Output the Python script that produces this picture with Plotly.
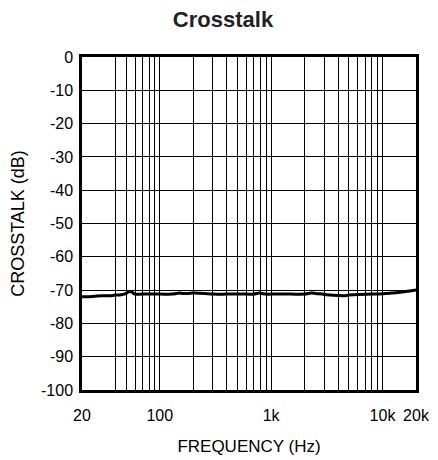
import plotly.graph_objects as go

freq_hz = [20, 25, 30, 35, 40, 45, 50, 53, 56, 60, 70, 100, 130, 150, 160, 180, 200, 250, 300,
           400, 500, 600, 700, 780, 820, 900, 1000, 1500, 2000, 2300, 2500, 3000, 4000, 4500,
           5000, 6000, 8000, 10000, 12000, 15000, 20000]
crosstalk_db = [-72.0, -71.9, -71.7, -71.7, -71.5, -71.4, -71.0, -70.4, -70.6, -71.2, -71.2, -71.2,
                -71.2, -70.9, -71.0, -71.0, -70.9, -71.0, -71.2, -71.2, -71.2, -71.2, -71.2, -70.9,
                -71.0, -71.2, -71.2, -71.2, -71.2, -70.9, -71.0, -71.3, -71.6, -71.7, -71.5, -71.3,
                -71.2, -71.1, -70.9, -70.6, -70.0]

x_tick_vals = [20, 100, 1000, 10000, 20000]
x_tick_text = ["20", "100", "1k", "10k", "20k"]
x_minor_grid = [40, 50, 60, 70, 80, 90, 200, 300, 400, 500, 600, 700, 800, 900,
                2000, 3000, 4000, 5000, 6000, 7000, 8000, 9000]
y_tick_vals = [0, -10, -20, -30, -40, -50, -60, -70, -80, -90, -100]
y_tick_text = ["0", "-10", "-20", "-30", "-40", "-50", "-60", "-70", "-80", "-90", "-100"]

font_family = "Liberation Sans, Arial, sans-serif"

fig = go.Figure()
fig.add_trace(go.Scatter(x=freq_hz, y=crosstalk_db, mode="lines",
                         line=dict(color="black", width=3), line_shape="spline",
                         showlegend=False, hoverinfo="skip"))

fig.update_layout(
    width=430, height=452,
    margin=dict(l=74, r=22, t=49, b=70),
    paper_bgcolor="white", plot_bgcolor="white",
    font=dict(family=font_family, size=16, color="black"),
    title=dict(text="<b>Crosstalk</b>", x=0.5, xanchor="center", y=1 - 11 / 452,
               yanchor="middle", yref="container", font=dict(size=22, color="#222")),
    xaxis=dict(
        type="log", range=[1.30103, 4.30103], automargin=False,
        tickvals=x_tick_vals, ticktext=x_tick_text,
        ticks="outside", ticklen=9, tickcolor="rgba(0,0,0,0)",
        showgrid=True, gridcolor="black", gridwidth=1.3,
        minor=dict(tickvals=x_minor_grid, showgrid=True, gridcolor="black", gridwidth=1.3, ticks=""),
        showline=True, linecolor="black", linewidth=2.5, mirror=True,
        title=dict(text="FREQUENCY (Hz)", standoff=18, font=dict(size=17)),
        tickfont=dict(size=16), zeroline=False,
    ),
    yaxis=dict(
        range=[-100, 0], tickvals=y_tick_vals, ticktext=y_tick_text, automargin=False,
        ticks="outside", ticklen=3, tickcolor="rgba(0,0,0,0)",
        showgrid=True, gridcolor="black", gridwidth=1.3,
        showline=True, linecolor="black", linewidth=2.5, mirror=True,
        title=dict(text="CROSSTALK (dB)", standoff=15, font=dict(size=18)),
        tickfont=dict(size=16), zeroline=False,
    ),
)

fig.write_html("out.html")
